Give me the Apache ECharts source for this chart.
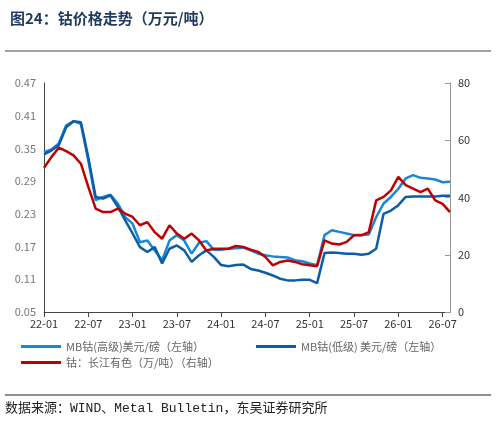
<!DOCTYPE html>
<html>
<head>
<meta charset="utf-8">
<script src="https://cdn.jsdelivr.net/npm/echarts@6/dist/echarts.min.js"></script>
<style>
html,body{margin:0;padding:0;background:#fff;}
#main{width:496px;height:425px;}
</style>
</head>
<body>
<div id="main"></div>
<script>
// 月度类目 22-01 ~ 26-08
var months = [];
for (var y = 22; y <= 26; y++) {
	for (var m = 1; m <= 12; m++) {
		if (y === 26 && m > 8) break;
		months.push(y + '-' + (m < 10 ? '0' + m : m));
	}
}

// MB钴(高级) 美元/磅
var mbHigh = [0.343, 0.348, 0.359, 0.392, 0.400, 0.395, 0.328, 0.255, 0.261, 0.265, 0.249, 0.224,
	0.212, 0.178, 0.181, 0.163, 0.145, 0.181, 0.191, 0.181, 0.157, 0.177, 0.180, 0.164,
	0.164, 0.166, 0.167, 0.168, 0.163, 0.157, 0.154, 0.152, 0.151, 0.150, 0.145, 0.143,
	0.139, 0.136, 0.191, 0.200, 0.197, 0.194, 0.191, 0.191, 0.192, 0.224, 0.249, 0.261,
	0.276, 0.295, 0.301, 0.296, 0.295, 0.293, 0.288, 0.289];

// MB钴(低级) 美元/磅
var mbLow = [0.339, 0.346, 0.356, 0.389, 0.400, 0.398, 0.334, 0.261, 0.258, 0.264, 0.243, 0.218,
	0.194, 0.169, 0.160, 0.169, 0.139, 0.166, 0.172, 0.163, 0.142, 0.154, 0.163, 0.151,
	0.136, 0.134, 0.136, 0.137, 0.129, 0.126, 0.122, 0.117, 0.111, 0.108, 0.108, 0.109,
	0.109, 0.103, 0.158, 0.159, 0.158, 0.157, 0.157, 0.155, 0.157, 0.166, 0.230, 0.236,
	0.246, 0.261, 0.262, 0.262, 0.262, 0.262, 0.263, 0.263];

// 长江有色 万元/吨
var cjCobalt = [50.4, 54.1, 57.4, 56.2, 54.7, 51.8, 43.7, 36.1, 34.9, 34.9, 36.1, 34.4,
	33.2, 30.3, 31.4, 27.9, 25.6, 30.3, 27.4, 25.6, 27.4, 25.0, 21.5, 22.1,
	22.1, 22.1, 23.1, 22.7, 21.8, 21.0, 19.2, 16.3, 17.5, 18.0, 17.5, 16.7,
	16.3, 16.0, 25.0, 23.9, 23.6, 24.5, 26.8, 26.8, 27.9, 39.0, 40.2, 42.5,
	47.2, 44.3, 43.1, 41.9, 43.1, 39.0, 37.8, 34.9];

var names = ['MB钴(高级)美元/磅（左轴）', 'MB钴(低级) 美元/磅（左轴）', '钴：长江有色（万/吨）（右轴）'];
var colors = ['#1a86d8', '#0b5ea6', '#c00000'];

var chart = echarts.init(document.getElementById('main'));
var font = '"Noto Sans CJK SC", "Noto Sans", sans-serif';

var legendBase = {
	icon: 'rect', itemWidth: 40, itemHeight: 3, itemGap: 8, padding: 0,
	textStyle: {fontSize: 11, color: '#666', fontFamily: font}
};

var option = {
	animation: false,
	backgroundColor: '#fff',
	color: colors,
	title: {
		text: '图24：钴价格走势（万元/吨）',
		left: 5, top: 6,
		textStyle: {color: '#1f3a5f', fontSize: 15, fontWeight: 'bold', fontFamily: font}
	},
	graphic: [
		{type: 'line', shape: {x1: 5, y1: 51, x2: 491, y2: 51}, style: {stroke: '#444', lineWidth: 1}},
		{type: 'line', shape: {x1: 5, y1: 395, x2: 491, y2: 395}, style: {stroke: '#222', lineWidth: 1}},
		{type: 'text', left: 5, top: 402,
			style: {text: '数据来源：WIND、Metal Bulletin，东吴证券研究所', fill: '#222', font: '13px "Liberation Mono", "Noto Sans CJK SC", monospace'}}
	],
	legend: [
		Object.assign({data: [names[0]], left: 21, top: 341}, legendBase),
		Object.assign({data: [names[1]], left: 256, top: 341}, legendBase),
		Object.assign({data: [names[2]], left: 21, top: 357}, legendBase)
	],
	grid: {left: 44, right: 46, top: 83, bottom: 113},
	xAxis: {
		type: 'category',
		data: months,
		boundaryGap: false,
		axisLine: {lineStyle: {color: '#444'}},
		axisTick: {interval: 5, lineStyle: {color: '#444'}},
		axisLabel: {interval: 5, color: '#333', fontSize: 11, fontFamily: font, margin: 6}
	},
	yAxis: [{
		type: 'value', min: 0.05, max: 0.47, interval: 0.06,
		splitLine: {show: false},
		axisLine: {show: true, lineStyle: {color: '#444'}},
		axisTick: {show: false},
		axisLabel: {color: '#777', fontSize: 11, fontFamily: font, formatter: function (v) { return v.toFixed(2); }}
	}, {
		type: 'value', min: 0, max: 80, interval: 20,
		splitLine: {show: false},
		axisLine: {show: true, lineStyle: {color: '#999'}},
		axisTick: {show: true, inside: true, lineStyle: {color: '#999'}},
		axisLabel: {color: '#333', fontSize: 11, fontFamily: font}
	}],
	series: [
		{name: names[0], type: 'line', data: mbHigh, yAxisIndex: 0, showSymbol: false, lineStyle: {width: 2.5}},
		{name: names[1], type: 'line', data: mbLow, yAxisIndex: 0, showSymbol: false, lineStyle: {width: 2.5}},
		{name: names[2], type: 'line', data: cjCobalt, yAxisIndex: 1, showSymbol: false, lineStyle: {width: 2.5}}
	]
};
chart.setOption(option);
</script>
</body>
</html>
